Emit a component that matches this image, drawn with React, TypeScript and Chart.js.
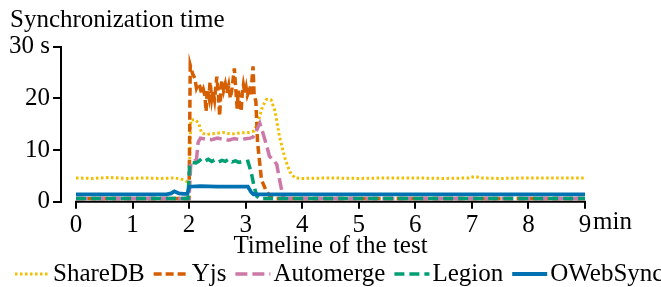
import React, { useEffect, useRef } from 'react';
import { Chart, registerables } from 'chart.js';

Chart.register(...registerables);

const FONT_FAMILY = "'Liberation Serif', 'Times New Roman', serif";
const FONT_SIZE = 25;

const chartTitle = 'Synchronization time';
const xAxisTitle = 'Timeline of the test';
const xUnit = 'min';
const yUnit = 's';
const xTicks = [0, 1, 2, 3, 4, 5, 6, 7, 8, 9];
const yTicks = [0, 10, 20, 30];

const seriesNames = ['ShareDB', 'Yjs', 'Automerge', 'Legion', 'OWebSync'];
const seriesColors = ['#F2BF00', '#D55E00', '#CC79A7', '#009E73', '#0072B2'];

const shareDbT = [0, 0.3, 0.6, 0.9, 1.2, 1.5, 1.75, 1.88, 1.96, 2.0, 2.03, 2.1, 2.17, 2.22, 2.3, 2.45, 2.6, 2.75, 2.9, 3.05, 3.15, 3.22, 3.3, 3.37, 3.45, 3.52, 3.6, 3.7, 3.78, 3.87, 4.0, 4.5, 5.0, 5.5, 6.0, 6.5, 6.95, 7.05, 7.15, 7.5, 8.0, 8.5, 9.0];
const shareDbV = [4.6, 4.5, 4.7, 4.5, 4.6, 4.5, 4.6, 4.3, 3.9, 4.2, 15.8, 15.9, 15.2, 13.3, 13.0, 13.2, 13.4, 13.1, 13.3, 13.4, 13.7, 15.5, 18.5, 19.8, 19.7, 17.5, 12.5, 8.2, 5.8, 4.6, 4.5, 4.6, 4.5, 4.6, 4.6, 4.5, 4.6, 4.9, 4.6, 4.5, 4.6, 4.6, 4.6];

const yjsT = [0, 1.0, 2.0, 2.02, 2.06, 2.1, 2.13, 2.16, 2.19, 2.22, 2.25, 2.28, 2.3, 2.32, 2.35, 2.37, 2.4, 2.42, 2.45, 2.49, 2.52, 2.54, 2.56, 2.58, 2.61, 2.64, 2.67, 2.7, 2.73, 2.76, 2.8, 2.83, 2.85, 2.87, 2.89, 2.92, 2.94, 2.96, 2.99, 3.01, 3.03, 3.06, 3.09, 3.13, 3.15, 3.18, 3.21, 3.28, 3.36, 3.44, 3.5, 4.5, 6.0, 7.5, 9.0];
const yjsV = [0.6, 0.6, 0.6, 26.4, 24.8, 23.9, 22.0, 22.8, 22.3, 21.0, 21.8, 20.5, 17.5, 21.7, 20.2, 23.2, 20.0, 21.5, 19.7, 24.2, 20.5, 16.6, 21.0, 23.5, 21.5, 22.8, 21.0, 22.5, 20.0, 22.0, 25.8, 21.0, 18.0, 21.5, 19.0, 17.5, 21.0, 22.6, 20.8, 22.0, 20.6, 21.5, 20.5, 26.2, 20.6, 19.5, 11.5, 4.2, 2.2, 0.9, 0.6, 0.6, 0.6, 0.6, 0.6];

const automergeT = [0, 1.0, 2.0, 2.03, 2.08, 2.13, 2.16, 2.2, 2.3, 2.4, 2.5, 2.6, 2.7, 2.8, 2.9, 3.0, 3.08, 3.13, 3.19, 3.25, 3.3, 3.38, 3.42, 3.5, 3.55, 3.6, 3.66, 3.7, 4.5, 6.0, 7.5, 9.0];
const automergeV = [0.6, 0.6, 0.6, 7.5, 7.8, 8.2, 11.5, 12.3, 12.1, 12.0, 12.3, 12.1, 11.9, 12.2, 12.0, 12.2, 12.3, 12.5, 13.8, 15.2, 13.5, 10.5, 8.8, 8.0, 7.2, 4.2, 1.0, 0.6, 0.6, 0.6, 0.6, 0.6];

const legionT = [0, 1.0, 1.98, 2.01, 2.06, 2.12, 2.17, 2.22, 2.28, 2.34, 2.4, 2.46, 2.52, 2.58, 2.64, 2.7, 2.76, 2.82, 2.88, 2.94, 3.0, 3.04, 3.1, 3.15, 3.2, 3.25, 4.5, 6.0, 7.5, 9.0];
const legionV = [0.6, 0.6, 0.6, 7.3, 7.6, 7.5, 7.8, 8.3, 7.9, 8.2, 7.8, 8.1, 7.7, 8.0, 7.8, 8.2, 7.7, 7.9, 7.6, 7.8, 7.7, 7.8, 5.6, 2.9, 1.0, 0.6, 0.6, 0.6, 0.6, 0.6];

const owebsyncT = [0, 1.0, 1.6, 1.68, 1.74, 1.82, 1.9, 1.97, 2.0, 2.2, 2.5, 2.8, 3.04, 3.1, 3.14, 4.5, 6.0, 7.5, 9.0];
const owebsyncV = [1.4, 1.4, 1.4, 1.6, 2.0, 1.6, 1.5, 1.5, 2.9, 3.0, 2.9, 2.9, 2.9, 1.8, 1.4, 1.4, 1.4, 1.4, 1.4];

const seriesT = [shareDbT, yjsT, automergeT, legionT, owebsyncT];
const seriesV = [shareDbV, yjsV, automergeV, legionV, owebsyncV];
const seriesDash = [[2.5, 2.5], [8, 4], [12, 5], [10, 5], []];
const seriesWidth = [3, 3.5, 3.5, 3.5, 3.8];

const CANVAS_W = 661;
const CANVAS_H = 287;

const font = (size = FONT_SIZE) => `${size}px ${FONT_FAMILY}`;

const decorPlugin = {
  id: 'decor',
  afterDraw(chart: any) {
    const { ctx, scales } = chart;
    const xs = scales.x;
    const ys = scales.y;
    ctx.save();
    const y0 = ys.getPixelForValue(0);
    const xStart = xs.getPixelForValue(xTicks[0]);
    const xEnd = xs.getPixelForValue(xTicks[xTicks.length - 1]);
    ctx.strokeStyle = '#000';
    ctx.lineWidth = 2;
    ctx.setLineDash([]);
    ctx.beginPath();
    ctx.moveTo(xStart - 1, y0);
    ctx.lineTo(xEnd + 1, y0);
    ctx.stroke();

    ctx.fillStyle = '#000';
    ctx.font = font();
    ctx.textBaseline = 'alphabetic';
    ctx.textAlign = 'left';
    ctx.fillText(chartTitle, 10, 27);
    ctx.fillText(xUnit, xEnd + 8, 229);
    ctx.textAlign = 'center';
    ctx.fillText(xAxisTitle, (xStart + xEnd) / 2, 253);

    ctx.textAlign = 'left';
    let lx = 15;
    const lineY = 274;
    const textY = 281;
    const sampleLen = 35;
    chart.data.datasets.forEach((ds: any) => {
      ctx.save();
      ctx.strokeStyle = ds.borderColor;
      ctx.lineWidth = ds.borderWidth;
      ctx.setLineDash(ds.borderDash || []);
      ctx.beginPath();
      ctx.moveTo(lx, lineY);
      ctx.lineTo(lx + sampleLen, lineY);
      ctx.stroke();
      ctx.restore();
      lx += sampleLen + 3;
      ctx.fillText(ds.label, lx, textY);
      lx += ctx.measureText(ds.label).width + 9;
    });
    ctx.restore();
  },
};

export default function App() {
  const canvasRef = useRef<HTMLCanvasElement | null>(null);

  useEffect(() => {
    document.body.style.margin = '0';
    document.body.style.overflow = 'hidden';
    const canvas = canvasRef.current;
    if (!canvas) return;

    const datasets = seriesNames.map((name, i) => ({
      label: name,
      data: seriesT[i].map((t, j) => ({ x: t, y: seriesV[i][j] })),
      borderColor: seriesColors[i],
      backgroundColor: seriesColors[i],
      borderWidth: seriesWidth[i],
      borderDash: seriesDash[i],
      pointRadius: 0,
      tension: 0,
      fill: false,
      order: seriesNames.length - i,
    }));

    const chart = new Chart(canvas, {
      type: 'line',
      data: { datasets },
      plugins: [decorPlugin],
      options: {
        animation: false,
        responsive: false,
        devicePixelRatio: 1,
        events: [],
        layout: { padding: { top: 46.7, right: 76, left: 0, bottom: 0 } },
        plugins: {
          legend: { display: false },
          title: { display: false },
          tooltip: { enabled: false },
        },
        scales: {
          x: {
            type: 'linear',
            min: -0.2652,
            max: 9,
            afterFit: (s: any) => { s.height = CANVAS_H - 201.7; },
            afterBuildTicks: (s: any) => { s.ticks = xTicks.map((v) => ({ value: v })); },
            border: { display: false },
            grid: { drawOnChartArea: false, drawTicks: true, tickLength: 7, lineWidth: 2, color: '#000' },
            ticks: {
              color: '#000',
              font: { family: FONT_FAMILY, size: FONT_SIZE },
              padding: 2,
              maxRotation: 0,
              autoSkip: false,
              callback: (v: any) => String(v),
            },
          },
          y: {
            type: 'linear',
            min: 0,
            max: 30,
            afterFit: (s: any) => { s.width = 61; },
            afterBuildTicks: (s: any) => { s.ticks = yTicks.map((v) => ({ value: v })); },
            border: { display: true, width: 2, color: '#000' },
            grid: { drawOnChartArea: false, drawTicks: true, tickLength: 8, lineWidth: 2, color: '#000' },
            ticks: {
              color: '#000',
              font: { family: FONT_FAMILY, size: FONT_SIZE },
              padding: 3,
              callback: (v: any) => (v === yTicks[yTicks.length - 1] ? `${v} ${yUnit}` : String(v)),
            },
          },
        },
      },
    });

    return () => chart.destroy();
  }, []);

  return (
    <div style={{ width: CANVAS_W, height: CANVAS_H, overflow: 'hidden' }}>
      <canvas ref={canvasRef} width={CANVAS_W} height={CANVAS_H} style={{ display: 'block', width: CANVAS_W, height: CANVAS_H }} />
    </div>
  );
}
